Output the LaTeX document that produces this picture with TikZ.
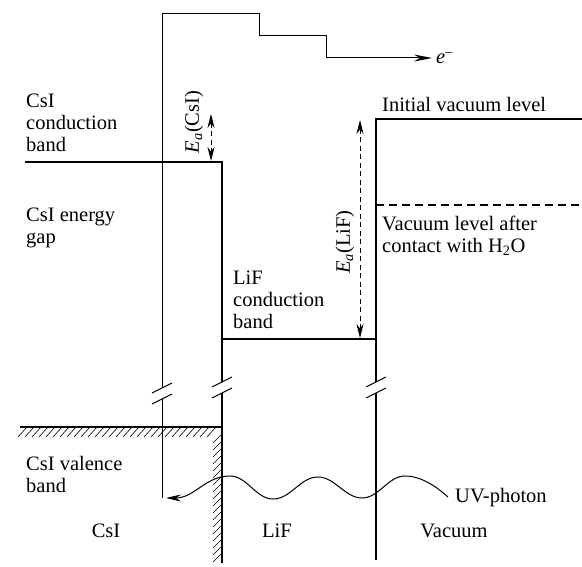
\documentclass[tikz,border=0pt]{standalone}
\usepackage{fontspec}
\setmainfont{Liberation Serif}
\usetikzlibrary{arrows.meta}

% two slashes across a level line, line cut between them
\newcommand{\levelbreak}[2]{%
  \fill[white] ({#1-10},{#2+5}) -- ({#1+10},{#2-5}) -- ({#1+10},{#2+6}) -- ({#1-10},{#2+16}) -- cycle;
  \draw[breakmark] ({#1-10},{#2+5}) -- ({#1+10},{#2-5});
  \draw[breakmark] ({#1-10},{#2+16}) -- ({#1+10},{#2+6});
}

\begin{document}
\begin{tikzpicture}[x=1pt, y=-1pt,
    level/.style={line width=1.4pt},
    path e/.style={line width=1pt},
    breakmark/.style={line width=1.1pt},
    hatch/.style={line width=0.6pt},
    gap arrow/.style={line width=0.9pt, dash pattern=on 5pt off 3.5pt,
      {Stealth[length=14pt, width=7pt]}-{Stealth[length=14pt, width=7pt]}},
    txt/.style={inner sep=0pt, font=\fontsize{20.5}{22}\selectfont, align=left}]
  \useasboundingbox (0,0) rectangle (582,567);
  \def\xcsi{162}
  \def\xlif{222}
  \def\xvac{376}

  % band edges
  \coordinate (csicb) at (25,162);
  \coordinate (lifcorner) at (\xlif,162);
  \coordinate (lifbot) at (\xlif,563);
  \coordinate (lifcbL) at (\xlif,339);
  \coordinate (lifcbR) at (\xvac,339);
  \coordinate (vactop) at (\xvac,119);
  \coordinate (vacbot) at (\xvac,560);
  \coordinate (vacR) at (582,119);
  \coordinate (h2oL) at (\xvac,205);
  \coordinate (h2oR) at (582,205);
  \coordinate (valL) at (20,427);
  \coordinate (valR) at (\xlif,427);

  \draw[level] (csicb) -- (lifcorner) -- (lifbot);
  \draw[level] (lifcbL) -- (lifcbR);
  \draw[level] (vacR) -- (vactop) -- (vacbot);
  \draw[level, dash pattern=on 8pt off 5pt] (h2oL) -- (h2oR);

  % valence band, hatched
  \draw[line width=1.8pt] (valL) -- (valR);
  \foreach \x in {27,34,...,222}
    \draw[hatch] (\x,427) -- ++(-9,10);
  \foreach \y in {434,441,...,558}
    \draw[hatch] (\xlif,\y) -- ++(-9,9);

  % electron path
  \coordinate (estart) at (\xcsi,498);
  \coordinate (eend) at (432,58);
  \draw[path e, -{Stealth[length=18pt, width=7pt]}] (estart) -- (\xcsi,14) -- (259,14) -- (259,36)
    -- (326,36) -- (326,58) -- (eend);
  \node[txt, anchor=base west] (elec) at (436,64) {\textit{e}\textsuperscript{--}};

  % breaks
  \levelbreak{\xcsi}{388}
  \levelbreak{\xlif}{382}
  \levelbreak{\xvac}{382}

  % UV photon
  \coordinate (uv) at (448,497);
  \draw[path e, -{Stealth[length=15pt, width=7pt]}] (uv) .. controls (438,488) and (422,476) .. (405,476)
    .. controls (388,476) and (379,498) .. (362,498)
    .. controls (345,498) and (335,477) .. (318,477)
    .. controls (300,477) and (291,499) .. (273,499)
    .. controls (256,499) and (247,476) .. (230,476)
    .. controls (205,476) and (195,498) .. (166,498);
  \node[txt, anchor=base west] (uvlbl) at (455,502) {UV-photon};

  % affinities
  \coordinate (eacsiT) at (211,114);
  \coordinate (eacsiB) at (211,161);
  \draw[gap arrow] (eacsiT) -- (eacsiB);
  \node[txt, rotate=90] (eacsi) at (194,122) {\textit{E}\textsubscript{\textit{a}}(CsI)};
  \coordinate (ealifT) at (360,120);
  \coordinate (ealifB) at (360,338);
  \draw[gap arrow] (ealifT) -- (ealifB);
  \node[txt, rotate=90] (ealif) at (345,242) {\textit{E}\textsubscript{\textit{a}}(LiF)};

  % labels
  \node[txt, anchor=north west] (csicblbl) at (26,94) {CsI\\conduction\\band};
  \node[txt, anchor=north west] (gaplbl) at (26,208) {CsI energy\\gap};
  \node[txt, anchor=north west] (lifcblbl) at (233,271) {LiF\\conduction\\band};
  \node[txt, anchor=north west] (vallbl) at (26,456) {CsI valence\\band};
  \node[txt, anchor=base west] (initlbl) at (382,112) {Initial vacuum level};
  \node[txt, anchor=north west] (h2olbl) at (382,216) {Vacuum level after\\contact with H\textsubscript{2}O};
  \node[txt, anchor=base] (csi) at (106,537) {CsI};
  \node[txt, anchor=base] (lif) at (277,537) {LiF};
  \node[txt, anchor=base] (vac) at (454,537) {Vacuum};
\end{tikzpicture}
\end{document}
